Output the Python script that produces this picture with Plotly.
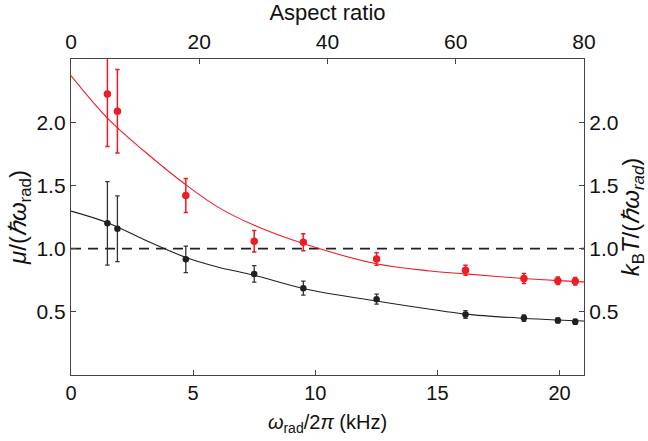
import plotly.graph_objects as go

# ---- data ----
freq_khz = [1.49, 1.90, 4.70, 7.50, 9.51, 12.51, 16.15, 18.54, 19.93, 20.64]

mu_vals = [1.20, 1.157, 0.915, 0.80, 0.687, 0.60, 0.479, 0.45, 0.432, 0.421]
mu_err = [0.33, 0.26, 0.105, 0.065, 0.055, 0.04, 0.03, 0.025, 0.02, 0.02]

kt_vals = [2.223, 2.086, 1.42, 1.058, 1.05, 0.918, 0.829, 0.763, 0.745, 0.742]
kt_err = [0.416, 0.33, 0.135, 0.085, 0.067, 0.05, 0.04, 0.04, 0.03, 0.03]

# fit curves
fit_x = [0.0, 1.5, 3.0, 4.7, 6.0, 7.5, 9.5, 12.5, 14.7, 16.15, 18.5, 19.93, 21.0]
mu_fit = [1.297, 1.205, 1.07, 0.93, 0.855, 0.789, 0.685, 0.585, 0.52, 0.482, 0.449, 0.435, 0.427]
kt_fit = [2.368, 2.03, 1.77, 1.505, 1.33, 1.184, 1.04, 0.88, 0.823, 0.80, 0.764, 0.747, 0.737]

REF_LEVEL = 1.0

x_range = [0, 21]
x_ticks = [0, 5, 10, 15, 20]
aspect_range = [0, 80]
aspect_ticks = [0, 20, 40, 60, 80]
y_range = [0, 2.5]
y_ticks = [0.5, 1.0, 1.5, 2.0]
y_ticklabels = ["0.5", "1.0", "1.5", "2.0"]

RED = "#ee1c25"
BLACK = "#231f20"
FONT = "Liberation Sans, Arial, sans-serif"

fig = go.Figure()

fig.add_trace(go.Scatter(x=fit_x, y=kt_fit, mode="lines",
                         line=dict(color=RED, width=1.1, shape="spline", smoothing=1.0),
                         showlegend=False, hoverinfo="skip"))
fig.add_trace(go.Scatter(x=fit_x, y=mu_fit, mode="lines",
                         line=dict(color=BLACK, width=1.1, shape="spline", smoothing=1.0),
                         showlegend=False, hoverinfo="skip"))

fig.add_hline(y=REF_LEVEL, line=dict(color=BLACK, width=1.6, dash="10px,7px"), layer="below")

fig.add_trace(go.Scatter(x=freq_khz, y=mu_vals, mode="markers",
                         marker=dict(color=BLACK, size=6.5),
                         error_y=dict(type="data", array=mu_err, color="#333333",
                                      thickness=1.3, width=2.2),
                         showlegend=False))
fig.add_trace(go.Scatter(x=freq_khz, y=kt_vals, mode="markers",
                         marker=dict(color=RED, size=7.5),
                         error_y=dict(type="data", array=kt_err, color=RED,
                                      thickness=1.5, width=2.2),
                         showlegend=False))

# invisible trace to anchor the secondary axes
fig.add_trace(go.Scatter(x=aspect_range, y=y_range, xaxis="x2", yaxis="y2",
                         mode="markers", marker=dict(opacity=0), showlegend=False,
                         hoverinfo="skip"))

axis_common = dict(showline=True, linecolor="#444444", linewidth=1.3,
                   ticks="inside", ticklen=5, tickcolor="#444444", tickwidth=1.2,
                   showgrid=False, zeroline=False)

fig.update_layout(
    width=648, height=441,
    margin=dict(l=71, r=64, t=59, b=66),
    paper_bgcolor="white", plot_bgcolor="white",
    font=dict(family=FONT, color="#111111"),
    xaxis=dict(range=x_range, tickvals=x_ticks, tickfont=dict(size=20),
               title=dict(text="<i>ω</i><sub>rad</sub>/2<i>π</i> (kHz)",
                          font=dict(size=20), standoff=11),
               **axis_common),
    xaxis2=dict(range=aspect_range, tickvals=aspect_ticks, overlaying="x", side="top",
                anchor="y", tickfont=dict(size=21),
                title=dict(text="Aspect ratio", font=dict(size=22), standoff=4),
                **axis_common),
    yaxis=dict(range=y_range, tickvals=y_ticks, ticktext=y_ticklabels,
               tickfont=dict(size=21),
               title=dict(text="<i>μ</i>/(<i>ℏω</i><sub>rad</sub>)",
                          font=dict(size=24), standoff=3),
               **axis_common),
    yaxis2=dict(range=y_range, tickvals=y_ticks, ticktext=y_ticklabels,
                overlaying="y", side="right", anchor="x",
                tickfont=dict(size=21),
                title=dict(text="<i>k</i><sub>B</sub><i>T</i>/(<i>ℏω</i><sub><i>rad</i></sub>)",
                           font=dict(size=24), standoff=2),
                **axis_common),
)

fig.write_html("out.html")
